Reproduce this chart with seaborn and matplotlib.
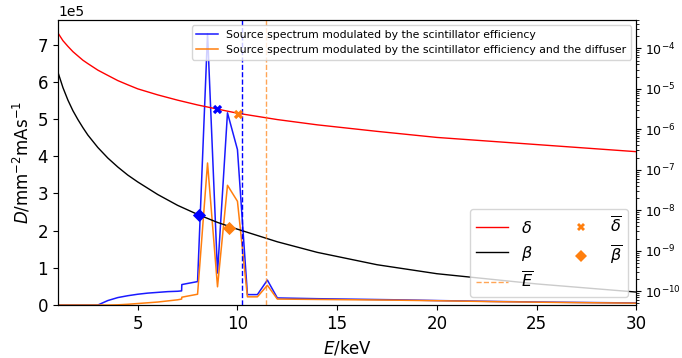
import numpy as np
import matplotlib
matplotlib.use("Agg")
import matplotlib.pyplot as plt
import seaborn as sns
from matplotlib.ticker import LogLocator
from matplotlib.lines import Line2D

# --------------------- data ---------------------
# source spectra (left axis, counts per mm^2 per mAs)
energy_spec = [1.0, 3.0, 3.5, 4.0, 4.5, 5.0, 5.5, 6.0, 6.5, 7.0, 7.2, 7.21, 7.5, 8.0,
               8.5, 9.0, 9.5, 10.0, 10.5, 11.0, 11.5, 12.0, 14.0, 16.0, 18.0, 20.0,
               23.0, 26.0, 30.0]
spec_scint = [0.0, 0.0, 0.12e5, 0.20e5, 0.25e5, 0.29e5, 0.32e5, 0.34e5, 0.36e5, 0.37e5,
              0.38e5, 0.55e5, 0.58e5, 0.63e5, 7.30e5, 0.86e5, 5.17e5, 4.18e5, 0.28e5,
              0.28e5, 0.67e5, 0.19e5, 0.17e5, 0.155e5, 0.14e5, 0.12e5, 0.095e5,
              0.075e5, 0.055e5]
spec_diffuser = [0.0, 0.0, 0.0, 0.005e5, 0.02e5, 0.04e5, 0.06e5, 0.08e5, 0.11e5, 0.14e5,
                 0.16e5, 0.21e5, 0.24e5, 0.29e5, 3.82e5, 0.49e5, 3.22e5, 2.79e5, 0.22e5,
                 0.22e5, 0.53e5, 0.16e5, 0.15e5, 0.14e5, 0.13e5, 0.115e5, 0.09e5,
                 0.07e5, 0.05e5]

# refractive index decrement / absorption index (right axis)
energy_n = [1.0, 1.25, 1.5, 1.75, 2.0, 2.25, 2.5, 3.0, 3.5, 4.0, 4.5, 5.0, 6.0, 7.0,
            8.0, 9.0, 10.0, 12.0, 14.0, 17.0, 20.0, 25.0, 30.0]
delta = [2.4e-4, 1.55e-4, 1.12e-4, 8.3e-5, 6.5e-5, 5.1e-5, 4.2e-5, 2.9e-5, 2.15e-5,
         1.6e-5, 1.26e-5, 1.0e-5, 7.1e-6, 5.25e-6, 4.0e-6, 3.16e-6, 2.5e-6, 1.74e-6,
         1.29e-6, 8.9e-7, 6.3e-7, 4.2e-7, 2.8e-7]
beta = [2.57e-5, 1.07e-5, 5.25e-6, 2.88e-6, 1.74e-6, 1.10e-6, 7.2e-7, 3.55e-7, 1.95e-7,
        1.17e-7, 7.4e-8, 5.0e-8, 2.45e-8, 1.32e-8, 7.9e-9, 5.0e-9, 3.4e-9, 1.66e-9,
        9.1e-10, 4.5e-10, 2.7e-10, 1.51e-10, 9.5e-11]

# spectrum weighted quantities: [scintillator, scintillator + diffuser]
mean_energy = [10.25, 11.42]
delta_bar_energy = [8.97, 10.04]
delta_bar = [3.16e-6, 2.45e-6]
beta_bar_energy = [8.05, 9.60]
beta_bar = [7.6e-9, 3.7e-9]

spec_labels = ["Source spectrum modulated by the scintillator efficiency",
               "Source spectrum modulated by the scintillator efficiency and the diffuser"]
colors = ["#1a1aff", "tab:orange"]

# --------------------- plot ---------------------
fig = plt.figure(figsize=(6.82, 3.58), dpi=100)
ax1 = fig.add_axes([0.085, 0.148, 0.848, 0.796])

sns.lineplot(x=energy_spec, y=spec_scint, ax=ax1, color=colors[0], lw=1.1)
sns.lineplot(x=energy_spec, y=spec_diffuser, ax=ax1, color=colors[1], lw=1.1)
ax1.set_xlim(1, 30)
ax1.set_ylim(bottom=0)
ax1.set_xlabel("$E$/keV", fontsize=12)
ax1.set_ylabel("$D$/mm$^{-2}$mAs$^{-1}$", fontsize=12)
ax1.tick_params(labelsize=12)
ax1.ticklabel_format(axis="y", style="sci", scilimits=(0, 0))

ax2 = ax1.twinx()
ax2.set_yscale("log")
sns.lineplot(x=energy_n, y=delta, ax=ax2, color="red", lw=1)
sns.lineplot(x=energy_n, y=beta, ax=ax2, color="black", lw=1)
ax2.axvline(mean_energy[0], color="blue", ls="--", lw=1)
ax2.axvline(mean_energy[1], color="tab:orange", ls="--", lw=1, alpha=0.7)
for i in range(2):
    c = "blue" if i == 0 else "tab:orange"
    sns.scatterplot(x=[delta_bar_energy[i]], y=[delta_bar[i]], ax=ax2, marker="X",
                    s=45, color=c, linewidth=0, zorder=5)
    sns.scatterplot(x=[beta_bar_energy[i]], y=[beta_bar[i]], ax=ax2, marker="D",
                    s=45, color=c, linewidth=0, zorder=5)
ax2.yaxis.set_major_locator(LogLocator(base=10, numticks=15))
ax2.tick_params(labelsize=9, pad=2.5)
ax2.set_xlim(1, 30)

# legends
spec_handles = [Line2D([], [], color=c, lw=1.1) for c in colors]
leg1 = ax2.legend(spec_handles, spec_labels, loc="upper right", fontsize=7.8)
ax2.add_artist(leg1)

prop_handles = [Line2D([], [], color="red", lw=1),
                Line2D([], [], color="black", lw=1),
                Line2D([], [], color="tab:orange", ls="--", lw=1, alpha=0.7),
                Line2D([], [], color="tab:orange", marker="X", ls="none", ms=6, mew=0),
                Line2D([], [], color="tab:orange", marker="D", ls="none", ms=6, mew=0)]
prop_labels = [r"$\delta$", r"$\beta$", r"$\overline{E}$",
               r"$\overline{\delta}$", r"$\overline{\beta}$"]
ax2.legend(prop_handles, prop_labels, loc="lower right", ncol=2, fontsize=11.5)

plt.savefig("out.png", dpi=100)
